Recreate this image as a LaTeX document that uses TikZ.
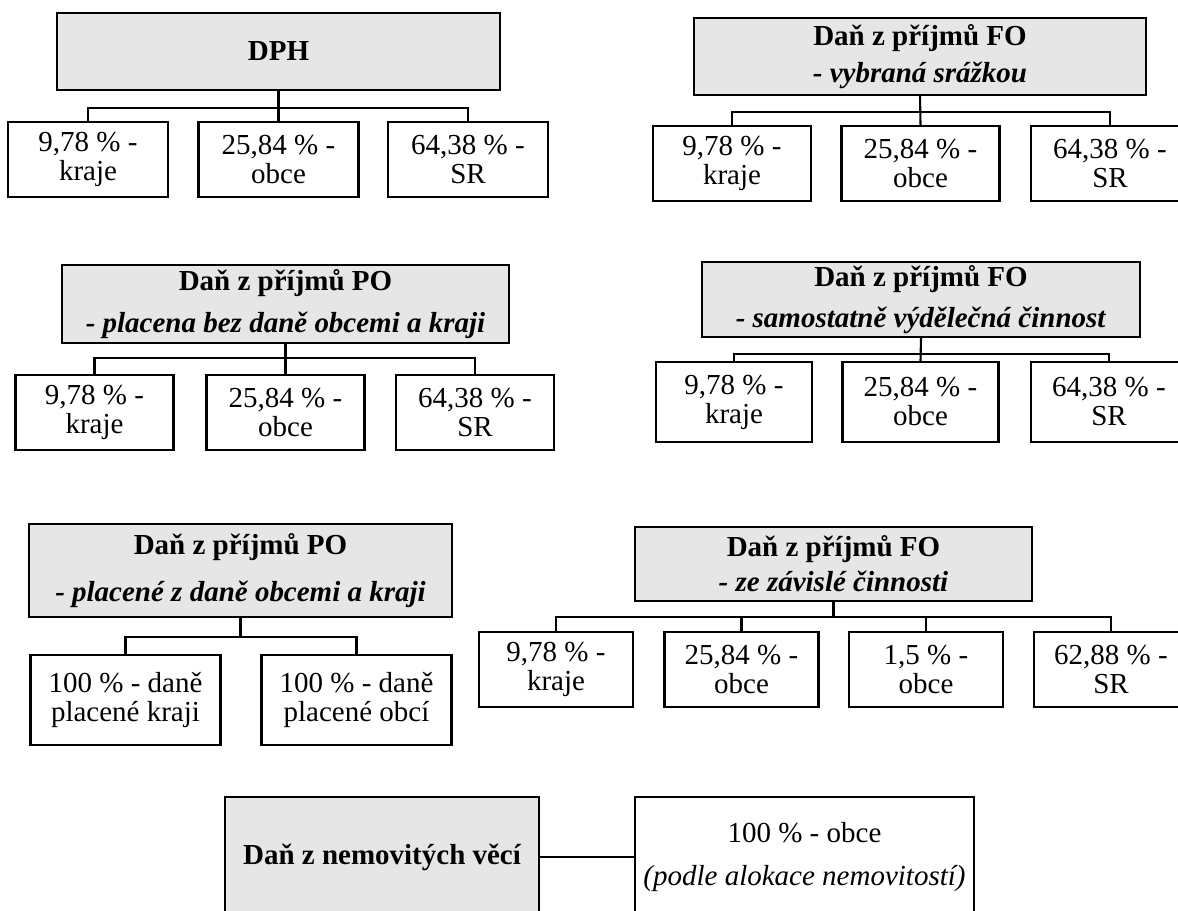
\documentclass[tikz,border=0pt]{standalone}
\usepackage{fontspec}
\setmainfont{Liberation Serif}
\definecolor{headgray}{RGB}{230,230,230}

\begin{document}
\begin{tikzpicture}[
    head/.style={rectangle, draw, fill=headgray, line width=1.2pt, inner sep=0pt, align=center, font=\fontsize{16.5}{17}\selectfont\bfseries},
    share/.style={rectangle, draw, fill=white, line width=1.2pt, inner sep=0pt, align=center, minimum height=1.5cm, font=\fontsize{16.5}{16.5}\selectfont},
    link/.style={line width=1.2pt}
]

\useasboundingbox (0,0) rectangle (23.56,18.22);
\clip (0,0) rectangle (23.56,18.22);

% === DPH ===
\node[head, minimum width=8.86cm, minimum height=1.54cm] (dph) at (5.57, 17.19) {DPH};
\node[share, minimum width=3.2cm] (dph_k) at (1.76, 15.03) {9,78 \% -\\kraje};
\node[share, minimum width=3.2cm] (dph_o) at (5.57, 15.03) {25,84 \% -\\obce};
\node[share, minimum width=3.2cm] (dph_sr) at (9.36, 15.03) {64,38 \% -\\SR};

\draw[link] (dph.south) -- ++(0,-0.34) -| (dph_k.north);
\draw[link] (dph.south) -- (dph_o.north);
\draw[link] (dph.south) -- ++(0,-0.34) -| (dph_sr.north);

% === FO - srazkou ===
\node[head, minimum width=9.04cm, minimum height=1.54cm] (fo_sr) at (18.40, 17.09) {Daň z příjmů FO\\[4pt]\textit{- vybraná srážkou}};
\node[share, minimum width=3.16cm] (fo_sr_k) at (14.64, 14.95) {9,78 \% -\\kraje};
\node[share, minimum width=3.16cm] (fo_sr_o) at (18.41, 14.95) {25,84 \% -\\obce};
\node[share, minimum width=3.16cm] (fo_sr_sr) at (22.20, 14.95) {64,38 \% -\\SR};

\draw[link] (fo_sr.south) -- ++(0,-0.32) -| (fo_sr_k.north);
\draw[link] (fo_sr.south) -- (fo_sr_o.north);
\draw[link] (fo_sr.south) -- ++(0,-0.32) -| (fo_sr_sr.north);

% === PO - bez dane obcemi a kraji ===
\node[head, minimum width=8.94cm, minimum height=1.56cm] (po_bez) at (5.71, 12.14) {Daň z příjmů PO\\[7pt]\textit{- placena bez daně obcemi a kraji}};
\node[share, minimum width=3.16cm] (po_bez_k) at (1.89, 9.97) {9,78 \% -\\kraje};
\node[share, minimum width=3.16cm] (po_bez_o) at (5.71, 9.97) {25,84 \% -\\obce};
\node[share, minimum width=3.16cm] (po_bez_sr) at (9.50, 9.97) {64,38 \% -\\SR};

\draw[link] (po_bez.south) -- ++(0,-0.28) -| (po_bez_k.north);
\draw[link] (po_bez.south) -- (po_bez_o.north);
\draw[link] (po_bez.south) -- ++(0,-0.28) -| (po_bez_sr.north);

% === FO - samostatna cinnost ===
\node[head, minimum width=8.76cm, minimum height=1.5cm] (fo_svc) at (18.42, 12.23) {Daň z příjmů FO\\[6pt]\textit{- samostatně výdělečná činnost}};
\node[share, minimum width=3.12cm, minimum height=1.6cm] (fo_svc_k) at (14.68, 10.18) {9,78 \% -\\kraje};
\node[share, minimum width=3.12cm, minimum height=1.6cm] (fo_svc_o) at (18.41, 10.18) {25,84 \% -\\obce};
\node[share, minimum width=3.12cm, minimum height=1.6cm] (fo_svc_sr) at (22.18, 10.18) {64,38 \% -\\SR};

\draw[link] (fo_svc.south) -- ++(0,-0.32) -| (fo_svc_k.north);
\draw[link] (fo_svc.south) -- (fo_svc_o.north);
\draw[link] (fo_svc.south) -- ++(0,-0.32) -| (fo_svc_sr.north);

% === PO - z dane obcemi a kraji ===
\node[head, minimum width=8.46cm, minimum height=1.86cm] (po_z) at (4.81, 6.81) {Daň z příjmů PO\\[10pt]\textit{- placené z daně obcemi a kraji}};
\node[share, minimum width=3.8cm, minimum height=1.8cm] (po_z_k) at (2.51, 4.22) {100 \% - daně\\placené kraji};
\node[share, minimum width=3.8cm, minimum height=1.8cm] (po_z_o) at (7.13, 4.22) {100 \% - daně\\placené obcí};

\draw[link] (po_z.south) -- ++(0,-0.38) -| (po_z_k.north);
\draw[link] (po_z.south) -- ++(0,-0.38) -| (po_z_o.north);

% === FO - zavisla cinnost ===
\node[head, minimum width=7.94cm, minimum height=1.48cm] (fo_zc) at (16.67, 6.94) {Daň z příjmů FO\\[3pt]\textit{- ze závislé činnosti}};
\node[share, minimum width=3.08cm] (fo_zc_k) at (11.12, 4.83) {9,78 \% -\\kraje};
\node[share, minimum width=3.08cm] (fo_zc_o) at (14.83, 4.83) {25,84 \% -\\obce};
\node[share, minimum width=3.08cm] (fo_zc_o2) at (18.52, 4.83) {1,5 \% -\\obce};
\node[share, minimum width=3.08cm] (fo_zc_sr) at (22.22, 4.83) {62,88 \% -\\SR};

\draw[link] (fo_zc.south) -- ++(0,-0.30) -| (fo_zc_k.north);
\draw[link] (fo_zc.south) -- ++(0,-0.30) -| (fo_zc_o.north);
\draw[link] (fo_zc.south) -- ++(0,-0.30) -| (fo_zc_o2.north);
\draw[link] (fo_zc.south) -- ++(0,-0.30) -| (fo_zc_sr.north);

% === Dan z nemovitych veci ===
\node[head, minimum width=6.28cm, minimum height=2.4cm] (dnv) at (7.64, 1.08) {Daň z nemovitých věcí};
\node[share, minimum width=6.78cm, minimum height=2.4cm] (dnv_o) at (16.09, 1.08) {100 \% - obce\\[7.5pt]\textit{(podle alokace nemovitostí)}};

\draw[link] (dnv) -- (dnv_o);

\end{tikzpicture}
\end{document}
